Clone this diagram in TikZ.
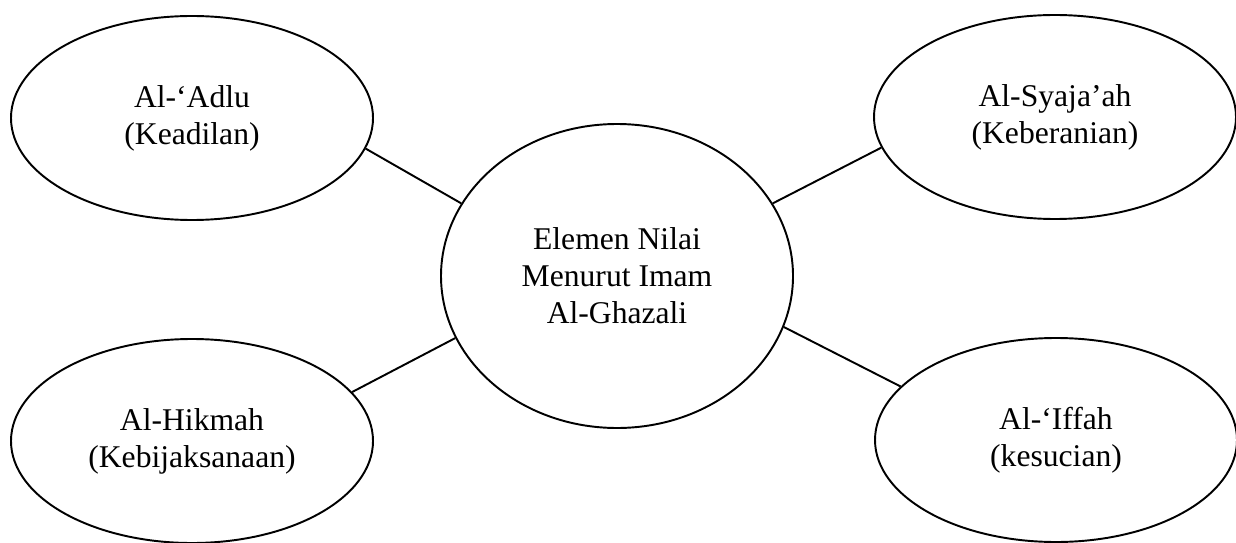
\documentclass[tikz,border=0pt]{standalone}
\usepackage{fontspec}
\setmainfont{Liberation Serif}
\usetikzlibrary{shapes.geometric}

\begin{document}
\begin{tikzpicture}[line width=1.1pt,
	every node/.style={font=\fontsize{18}{21}\selectfont,align=center},
	nilai/.style={draw,ellipse,minimum width=7.24cm,minimum height=4.08cm,inner sep=0pt},
	pusat/.style={draw,ellipse,minimum width=7.04cm,minimum height=6.08cm,inner sep=0pt}]
	\useasboundingbox (0,0) rectangle (24.72,-10.86);
	\node[pusat] (pusat) at (12.34,-5.52) {Elemen Nilai\\Menurut Imam\\Al-Ghazali};
	\node[nilai] (adlu) at (3.84,-2.36) {Al-‘Adlu\\(Keadilan)};
	\node[nilai] (syajaah) at (21.10,-2.34) {Al-Syaja’ah\\(Keberanian)};
	\node[nilai] (hikmah) at (3.84,-8.82) {Al-Hikmah\\(Kebijaksanaan)};
	\node[nilai] (iffah) at (21.12,-8.80) {Al-‘Iffah\\(kesucian)};
	\draw (pusat.155) -- (adlu.350);
	\draw (pusat.25) -- (syajaah.190);
	\draw (pusat.201) -- (hikmah.17);
	\draw (pusat.343) -- (iffah.161);
\end{tikzpicture}
\end{document}
